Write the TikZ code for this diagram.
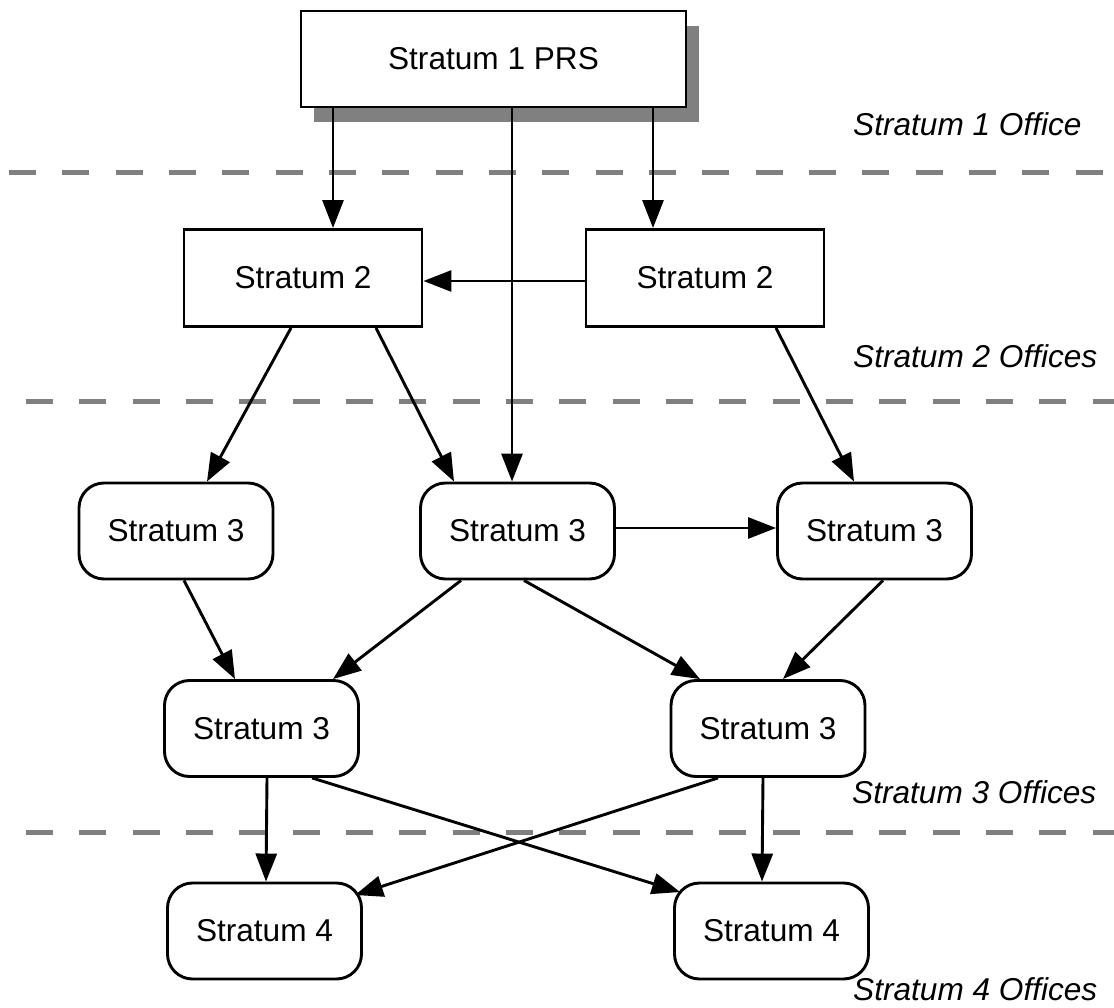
\documentclass[tikz,border=0pt]{standalone}
\usepackage{fontspec}
\setmainfont{Liberation Sans}
\usetikzlibrary{arrows.meta,calc,shadows}
\begin{document}
\begin{tikzpicture}[x=1pt,y=-1pt,
  every node/.style={font=\fontsize{31.6pt}{38pt}\selectfont},
  sqbox/.style={draw, line width=2.9pt, fill=white, inner sep=0pt, minimum width=238pt, minimum height=97pt},
  rbox/.style={draw, line width=2.9pt, fill=white, rounded corners=25pt, inner sep=0pt, minimum width=194pt, minimum height=96pt},
  conn/.style={line width=2.9pt, -{Triangle[length=28pt,width=21pt]}},
  sepline/.style={draw=black!50, line width=5pt, dash pattern=on 27pt off 26.33pt},
  lbl/.style={font=\fontsize{31.6pt}{38pt}\selectfont\itshape, anchor=base west, inner sep=0pt}]
\useasboundingbox (0,0) rectangle (1114,1008);
% separators
\draw[sepline] (9,173) -- (1120,173);
\draw[sepline] (26,401) -- (1120,401);
\draw[sepline] (26,832) -- (1120,832);
% nodes
\node[sqbox, minimum width=385pt, minimum height=96pt,
  drop shadow={shadow xshift=13pt, shadow yshift=-15pt, fill=black!50, opacity=1}] (prs) at (493.5,59) {Stratum 1 PRS};
\node[sqbox] (s2l) at (303,278) {Stratum 2};
\node[sqbox] (s2r) at (705,278) {Stratum 2};
\node[rbox] (s3l) at (176,531) {Stratum 3};
\node[rbox] (s3m) at (517.5,531) {Stratum 3};
\node[rbox] (s3r) at (874.5,531) {Stratum 3};
\node[rbox] (s3ll) at (261.5,728.5) {Stratum 3};
\node[rbox] (s3lr) at (768,728.5) {Stratum 3};
\node[rbox] (s4l) at (264.5,931) {Stratum 4};
\node[rbox] (s4r) at (771.5,931) {Stratum 4};
% labels
\node[lbl] (o1) at (853,136) {Stratum 1 Office};
\node[lbl] (o2) at (853,367) {Stratum 2 Offices};
\node[lbl] (o3) at (852,803) {Stratum 3 Offices};
\node[lbl] (o4) at (853,1000) {Stratum 4 Offices};
% connectors
\draw[conn] ($(prs.south)+(-160.5,0)$) -- ($(s2l.north)+(30,0)$);
\draw[conn] ($(prs.south)+(159.5,0)$) -- ($(s2r.north)+(-52,0)$);
\draw[conn] ($(prs.south)+(18.5,0)$) -- ($(s3m.north)+(-5.5,0)$);
\draw[conn] ($(s2r.west)+(0,3)$) -- ($(s2l.east)+(0,3)$);
\draw[conn] ($(s2l.south)+(-12,0)$) -- ($(s3l.north)+(31,0)$);
\draw[conn] ($(s2l.south)+(73,0)$) -- ($(s3m.north)+(-63.5,0)$);
\draw[conn] ($(s2r.south)+(71,0)$) -- ($(s3r.north)+(-20.5,0)$);
\draw[conn] ($(s3m.east)+(0,-3)$) -- ($(s3r.west)+(0,-3)$);
\draw[conn] ($(s3l.south)+(8,0)$) -- ($(s3ll.north)+(-26.5,0)$);
\draw[conn] ($(s3m.south)+(-56.5,0)$) -- ($(s3ll.north)+(71.5,0)$);
\draw[conn] ($(s3m.south)+(6.5,0)$) -- ($(s3lr.north)+(-68,0)$);
\draw[conn] ($(s3r.south)+(8.5,0)$) -- ($(s3lr.north)+(15,0)$);
\draw[conn] ($(s3ll.south)+(5.5,0)$) -- ($(s4l.north)+(1.5,0)$);
\draw[conn] ($(s3ll.south)+(50.5,0)$) -- ($(s4r.center)+(-91.5,-39)$);
\draw[conn] ($(s3lr.south)+(-50,0)$) -- ($(s4l.center)+(90.5,-36)$);
\draw[conn] ($(s3lr.south)+(-5,0)$) -- ($(s4r.north)+(-9.5,0)$);
\end{tikzpicture}
\end{document}
